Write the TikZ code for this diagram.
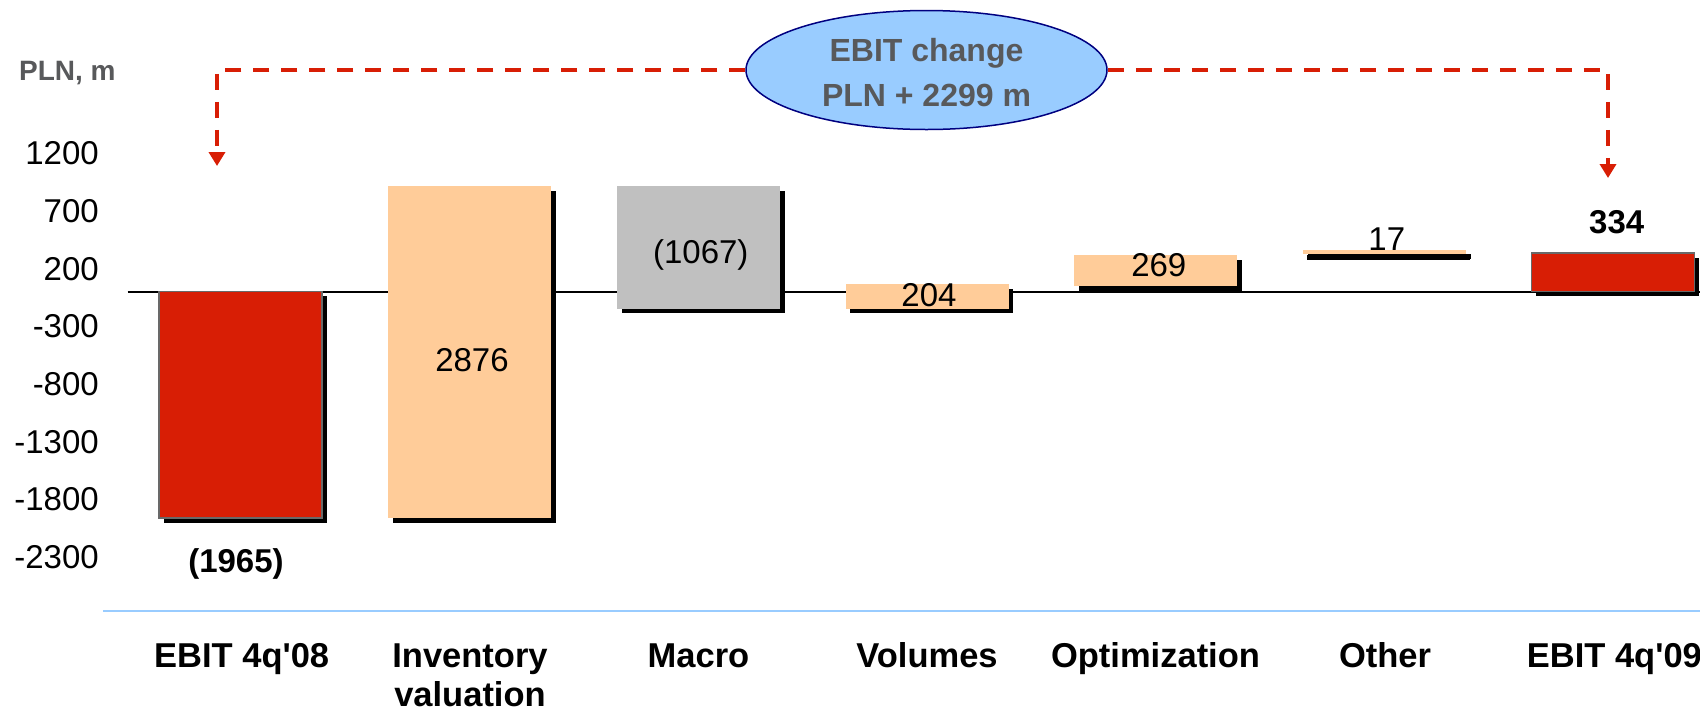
\documentclass[tikz,border=0pt]{standalone}
\usepackage{fontspec}
\setmainfont{Liberation Sans}
\usetikzlibrary{arrows.meta,shapes.geometric,shadows}

\definecolor{ebitred}{RGB}{216,30,5}
\definecolor{peach}{RGB}{255,204,153}
\definecolor{macrogray}{RGB}{192,192,192}
\definecolor{rimgray}{RGB}{105,105,105}
\definecolor{labelgray}{RGB}{88,89,91}
\definecolor{bubble}{RGB}{153,204,255}
\definecolor{bubbleedge}{RGB}{0,0,128}
\definecolor{rulerblue}{RGB}{153,204,255}

\tikzset{
  barbase/.style={rectangle, inner sep=0pt, outer sep=0pt, minimum width=163pt,
    anchor=north west,
    general shadow={fill=black, shadow xshift=4.5pt, shadow yshift=-4.5pt}},
  redbar/.style={barbase, fill=ebitred, draw=rimgray, line width=1.5pt},
  peachbar/.style={barbase, fill=peach},
  graybar/.style={barbase, fill=macrogray},
  ticklabel/.style={anchor=base east, inner sep=0pt, font=\fontsize{33}{40}\selectfont},
  vallabel/.style={anchor=base, inner sep=0pt, font=\fontsize{33}{40}\selectfont},
  boldval/.style={vallabel, font=\fontsize{33}{40}\selectfont\bfseries},
  catlabel/.style={anchor=base, inner sep=0pt, font=\fontsize{34.5}{40}\selectfont\bfseries},
  changedash/.style={draw=ebitred, line width=4pt, dash pattern=on 16pt off 12pt,
    -{Triangle[width=16pt,length=14pt]}},
}

\begin{document}
\begin{tikzpicture}[x=1pt,y=-1pt]
\useasboundingbox (0,0) rectangle (1700,713);

% unit label and value axis
\node[anchor=base west, inner sep=0pt, text=labelgray,
      font=\fontsize{28}{32}\selectfont\bfseries] (unit) at (19,80) {PLN, m};
\node[ticklabel] (t1200) at (99,164.8) {1200};
\node[ticklabel] (t700)  at (99,222.4) {700};
\node[ticklabel] (t200)  at (99,280.1) {200};
\node[ticklabel] (tm300) at (99,337.7) {-300};
\node[ticklabel] (tm800) at (99,395.4) {-800};
\node[ticklabel] (tm1300) at (99,453.0) {-1300};
\node[ticklabel] (tm1800) at (99,510.7) {-1800};
\node[ticklabel] (tm2300) at (99,568.3) {-2300};

% zero line
\coordinate (z0) at (127.5,291.5);
\coordinate (z1) at (1700,291.5);
\draw[line width=2pt] (z0) -- (z1);

% waterfall bars
\node[redbar,   minimum height=226.5pt] (b1) at (159,291.5) {};
\node[peachbar, minimum height=332pt]   (b2) at (388,186) {};
\node[graybar,  minimum height=122.5pt] (b3) at (617,186) {};
\node[peachbar, minimum height=24.5pt]  (b4) at (845.5,284) {};
\node[peachbar, minimum height=31pt]    (b5) at (1074,255) {};
\node[peachbar, minimum height=4.5pt,
      general shadow={fill=black, shadow xshift=4pt, shadow yshift=-5.5pt}] (b6) at (1303,249.8) {};
\node[redbar,   minimum height=38.5pt]  (b7) at (1531.5,253) {};

% bar values
\node[boldval]  (v1) at (236,572) {(1965)};
\node[vallabel] (v2) at (472,371.7) {2876};
\node[vallabel] (v3) at (700.8,263.3) {(1067)};
\node[vallabel] (v4) at (929,306.7) {204};
\node[vallabel] (v5) at (1158.8,276.7) {269};
\node[vallabel] (v6) at (1386.8,250.3) {17};
\node[boldval]  (v7) at (1616.7,233.3) {334};

% change bubble and its arrows
\coordinate (lc) at (217,70);
\coordinate (ltip) at (217,166);
\coordinate (rc) at (1608,70);
\coordinate (rtip) at (1608,178);
\node[ellipse, draw=bubbleedge, fill=bubble, line width=1.5pt, inner sep=0pt,
      minimum width=361pt, minimum height=119pt] (chg) at (926.5,70) {};
\draw[changedash] (chg.west) -- (lc) -- (ltip);
\draw[changedash] (chg.east) -- (rc) -- (rtip);
\node[anchor=base, inner sep=0pt, text=labelgray,
      font=\fontsize{32}{40}\selectfont\bfseries] (chg1) at (926.5,61) {EBIT change};
\node[anchor=base, inner sep=0pt, text=labelgray,
      font=\fontsize{32}{40}\selectfont\bfseries] (chg2) at (926.5,106) {PLN + 2299 m};

% category ruler and names
\coordinate (r0) at (103,611);
\coordinate (r1) at (1700,611);
\draw[rulerblue, line width=2pt] (r0) -- (r1);
\node[catlabel] (c1)  at (241.7,667) {EBIT 4q\textquotesingle 08};
\node[catlabel] (c2a) at (470,667) {Inventory};
\node[catlabel] (c2b) at (470,706) {valuation};
\node[catlabel] (c3)  at (698.5,667) {Macro};
\node[catlabel] (c4)  at (927,667) {Volumes};
\node[catlabel] (c5)  at (1155.5,667) {Optimization};
\node[catlabel] (c6)  at (1385,667) {Other};
\node[catlabel] (c7)  at (1614.4,667) {EBIT 4q\textquotesingle 09};
\end{tikzpicture}
\end{document}
